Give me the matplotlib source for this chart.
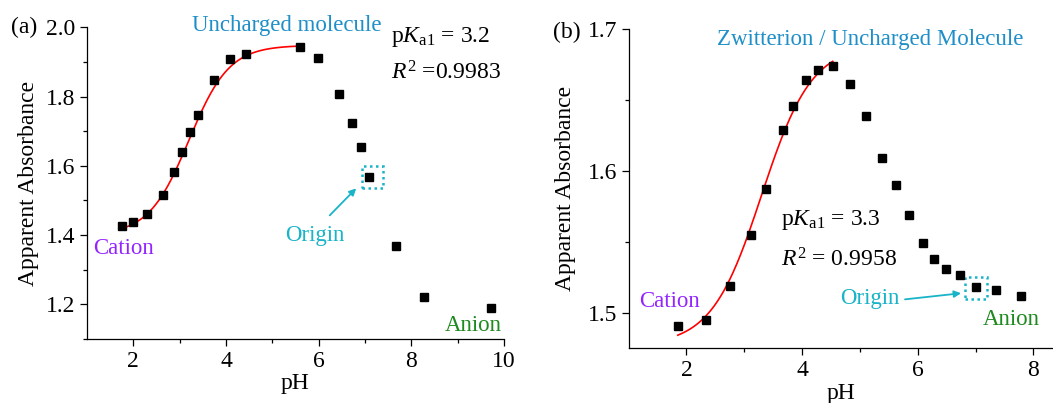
import numpy as np
import matplotlib.pyplot as plt
import matplotlib
from matplotlib.patches import Rectangle

matplotlib.rcParams.update({
    'font.family': 'serif',
    'font.serif': ['Liberation Serif', 'DejaVu Serif'],
    'mathtext.fontset': 'custom',
    'mathtext.rm': 'Liberation Serif',
    'mathtext.it': 'Liberation Serif:italic',
    'font.size': 17,
    'axes.linewidth': 0.9,
})

# panel (a) data
ph_a = [1.75, 2.00, 2.29, 2.64, 2.87, 3.06, 3.23, 3.39, 3.74, 4.08, 4.43,
        5.60, 5.99, 6.44, 6.73, 6.91, 7.08, 7.68, 8.28, 9.71]
abs_a = [1.427, 1.437, 1.460, 1.516, 1.582, 1.639, 1.697, 1.747, 1.847, 1.909,
         1.922, 1.943, 1.912, 1.806, 1.725, 1.654, 1.567, 1.369, 1.221, 1.190]

# panel (b) data
ph_b = [1.85, 2.33, 2.75, 3.11, 3.37, 3.67, 3.85, 4.07, 4.28, 4.53, 4.83,
        5.11, 5.39, 5.62, 5.85, 6.10, 6.29, 6.49, 6.73, 7.01, 7.35, 7.78]
abs_b = [1.491, 1.495, 1.519, 1.555, 1.587, 1.629, 1.646, 1.664, 1.671, 1.674,
         1.661, 1.639, 1.609, 1.590, 1.569, 1.549, 1.538, 1.531, 1.527, 1.518,
         1.516, 1.512]

# sigmoid fit parameters (low, high, pKa, pH range)
fit_a = dict(low=1.400, high=1.948, pka=3.2, start=1.75, stop=5.60)
fit_b = dict(low=1.477, high=1.689, pka=3.3, start=1.85, stop=4.53)

c_blue = '#1e8fc8'
c_purple = '#9326ff'
c_green = '#1f8a1f'
c_cyan = '#19b4c8'


def sigmoid(ph, low, high, pka):
    return low + (high - low) / (1 + 10 ** (pka - ph))


def style_axis(ax):
    ax.spines['top'].set_visible(False)
    ax.spines['right'].set_visible(False)
    ax.tick_params(which='both', direction='out', labelsize=17)
    ax.tick_params(which='major', length=5, width=0.9)
    ax.tick_params(which='minor', length=3, width=0.9)
    ax.set_xlabel('pH', labelpad=1)
    ax.set_ylabel('Apparent Absorbance')


fig = plt.figure(figsize=(10.53, 4.03), dpi=100)
ax1 = fig.add_axes([0.0826, 0.1588, 0.396, 0.7735])
ax2 = fig.add_axes([0.597, 0.1357, 0.403, 0.7923])

# ---- (a)
f = fit_a
xs = np.linspace(f['start'], f['stop'], 200)
ax1.plot(xs, sigmoid(xs, f['low'], f['high'], f['pka']), color='red', lw=1.2, zorder=2)
ax1.plot(ph_a, abs_a, 's', color='black', ms=5.4, zorder=3)
ax1.set_xlim(1, 10)
ax1.set_ylim(1.1, 2.0)
ax1.set_xticks([2, 4, 6, 8, 10])
ax1.set_xticks([3, 5, 7, 9], minor=True)
ax1.set_yticks([1.2, 1.4, 1.6, 1.8, 2.0])
ax1.set_yticks([1.1, 1.3, 1.5, 1.7, 1.9], minor=True)
ax1.yaxis.set_major_formatter(matplotlib.ticker.FormatStrFormatter('%.1f'))
style_axis(ax1)
ax1.yaxis.labelpad = 5

ax1.text(5.32, 2.006, 'Uncharged molecule', color=c_blue, ha='center', va='center',
         fontsize=16.5, clip_on=False)
ax1.text(7.57, 1.973, r'p$K$$_{\mathrm{a1}}$ = 3.2', ha='left', va='center', fontsize=17)
ax1.text(7.57, 1.868, r'$R^2$ =0.9983', ha='left', va='center', fontsize=17)
ax1.text(1.13, 1.361, 'Cation', color=c_purple, ha='left', va='center', fontsize=16.5)
ax1.text(5.92, 1.400, 'Origin', color=c_cyan, ha='center', va='center', fontsize=16.5)
ax1.text(9.34, 1.140, 'Anion', color=c_green, ha='center', va='center', fontsize=16.5)
ax1.annotate('', xy=(6.81, 1.535), xytext=(6.24, 1.457),
             arrowprops=dict(arrowstyle='-|>', color=c_cyan, lw=1.3,
                             mutation_scale=10, shrinkA=0, shrinkB=0))
ax1.add_patch(Rectangle((6.94, 1.535), 0.45, 0.064, fill=False, edgecolor=c_cyan,
                        lw=1.8, linestyle=(0, (1, 1.4))))

# ---- (b)
f = fit_b
xs = np.linspace(f['start'], f['stop'], 200)
ax2.plot(xs, sigmoid(xs, f['low'], f['high'], f['pka']), color='red', lw=1.2, zorder=2)
ax2.plot(ph_b, abs_b, 's', color='black', ms=5.4, zorder=3)
ax2.set_xlim(1, 8.34)
ax2.set_ylim(1.475, 1.70)
ax2.set_xticks([2, 4, 6, 8])
ax2.set_xticks([3, 5, 7], minor=True)
ax2.set_yticks([1.5, 1.6, 1.7])
ax2.set_yticks([1.55, 1.65], minor=True)
ax2.yaxis.set_major_formatter(matplotlib.ticker.FormatStrFormatter('%.1f'))
style_axis(ax2)
ax2.yaxis.labelpad = 8

ax2.text(5.18, 1.6927, 'Zwitterion / Uncharged Molecule', color=c_blue, ha='center',
         va='center', fontsize=16.5)
ax2.text(3.63, 1.5653, r'p$K$$_{\mathrm{a1}}$ = 3.3', ha='left', va='center', fontsize=17)
ax2.text(3.63, 1.5376, r'$R^2$ = 0.9958', ha='left', va='center', fontsize=17)
ax2.text(1.70, 1.5077, 'Cation', color=c_purple, ha='center', va='center', fontsize=16.5)
ax2.text(5.18, 1.5102, 'Origin', color=c_cyan, ha='center', va='center', fontsize=16.5)
ax2.text(7.61, 1.4953, 'Anion', color=c_green, ha='center', va='center', fontsize=16.5)
ax2.annotate('', xy=(6.75, 1.5138), xytext=(5.78, 1.5095),
             arrowprops=dict(arrowstyle='-|>', color=c_cyan, lw=1.3,
                             mutation_scale=10, shrinkA=0, shrinkB=0))
ax2.add_patch(Rectangle((6.82, 1.5098), 0.37, 0.0158, fill=False, edgecolor=c_cyan,
                        lw=1.8, linestyle=(0, (1, 1.4))))

fig.text(0.010, 0.933, '(a)', ha='left', va='center', fontsize=17)
fig.text(0.525, 0.920, '(b)', ha='left', va='center', fontsize=17)

fig.savefig('out.png', dpi=100)
